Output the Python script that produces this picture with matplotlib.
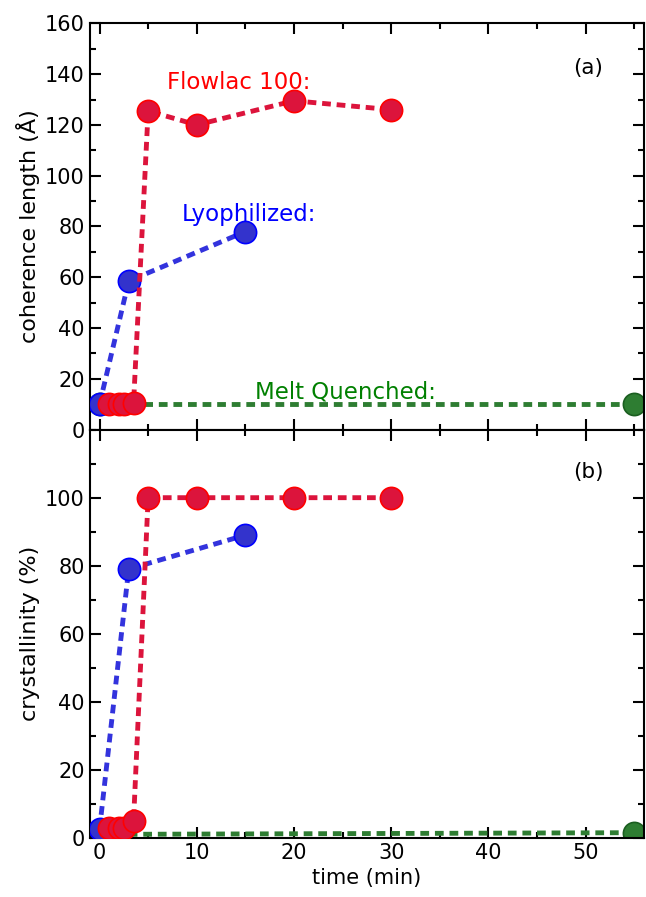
import matplotlib.pyplot as plt
from matplotlib.ticker import MultipleLocator

# coherence length (panel a)
flow_t = [1, 2, 2.5, 3.5, 5, 10, 20, 30]
flow_coh = [10, 10, 10, 10.5, 125.5, 120, 129.5, 126]
lyo_t = [0, 3, 15]
lyo_coh = [10, 58.5, 78]
melt_t = [0, 55]
melt_coh = [10, 10]

# crystallinity (panel b)
flow_cry = [3, 3, 3, 5, 100, 100, 100, 100]
lyo_cry = [2.5, 79, 89]
melt_cry = [1, 1.5]

red_face, red_edge = '#dc143c', '#ff0000'
blue_face, blue_edge = '#3333cc', '#0000ff'
green_face, green_edge = '#2e7d32', '#1b5e20'

plt.rcParams['font.size'] = 15

fig = plt.figure(figsize=(6.46, 8.97), dpi=100)
ax1 = fig.add_axes([0.139, 0.521, 0.858, 0.453])
ax2 = fig.add_axes([0.139, 0.066, 0.858, 0.455], sharex=ax1)

line_kw = dict(linestyle=(0, (1.8, 1.2)), linewidth=3.5, marker='o', markersize=16,
               markeredgewidth=1.2)


def draw(ax, y_flow, y_lyo, y_melt):
    ax.plot(melt_t, y_melt, color=green_face, markerfacecolor=green_face,
            markeredgecolor=green_edge, zorder=2, **line_kw)
    ax.plot(lyo_t, y_lyo, color='#3333dd', markerfacecolor=blue_face,
            markeredgecolor=blue_edge, zorder=3, **line_kw)
    ax.plot(flow_t, y_flow, color=red_face, markerfacecolor=red_face,
            markeredgecolor=red_edge, zorder=4, **line_kw)
    ax.tick_params(which='both', direction='in', top=True, right=True, width=1.5)
    ax.tick_params(which='major', length=8)
    ax.tick_params(which='minor', length=4)
    ax.xaxis.set_major_locator(MultipleLocator(10))
    ax.xaxis.set_minor_locator(MultipleLocator(5))
    for s in ax.spines.values():
        s.set_linewidth(1.5)


draw(ax1, flow_coh, lyo_coh, melt_coh)
draw(ax2, flow_cry, lyo_cry, melt_cry)

ax1.set_xlim(-1, 56)
ax1.set_ylim(0, 160)
ax1.yaxis.set_major_locator(MultipleLocator(20))
ax1.yaxis.set_minor_locator(MultipleLocator(10))
ax1.set_ylabel('coherence length (Å)', fontsize=16)
plt.setp(ax1.get_xticklabels(), visible=False)

ax2.set_ylim(0, 120)
ax2.set_yticks([0, 20, 40, 60, 80, 100])
ax2.yaxis.set_minor_locator(MultipleLocator(10))
ax2.set_ylabel('crystallinity (%)', fontsize=16)
ax2.set_xlabel('time (min)', fontsize=15)

ax1.text(6.9, 134, 'Flowlac 100:', color='red', fontsize=16.5)
ax1.text(8.5, 82, 'Lyophilized:', color='blue', fontsize=16.5)
ax1.text(16, 12.2, 'Melt Quenched:', color='green', fontsize=16.5)
ax1.text(0.899, 0.889, '(a)', transform=ax1.transAxes, fontsize=15.5,
         ha='center', va='center')
ax2.text(0.899, 0.897, '(b)', transform=ax2.transAxes, fontsize=15.5,
         ha='center', va='center')

fig.savefig('out.png', dpi=100)
